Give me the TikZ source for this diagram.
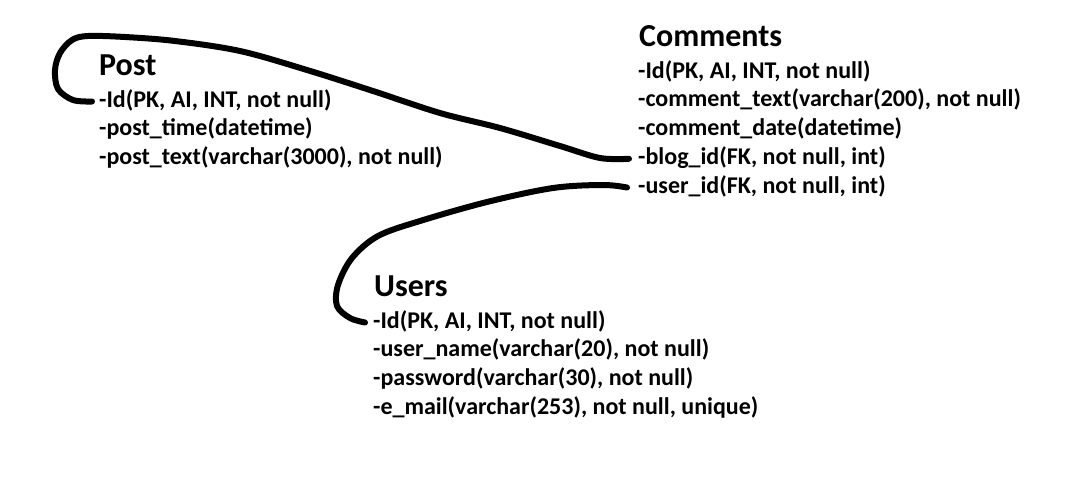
\documentclass[tikz,border=0pt]{standalone}
\usepackage{fontspec}
\setmainfont{Carlito}
\begin{document}
\begin{tikzpicture}[
        x=1pt, y=-1pt,
        title/.style={anchor=base west, inner sep=0pt,
            font=\fontsize{32}{38}\selectfont\bfseries},
        field/.style={anchor=base west, inner sep=0pt,
            text height=17pt, text depth=6pt,
            font=\fontsize{24}{29}\selectfont\bfseries},
        pen/.style={draw=black, line width=6pt, line cap=round, line join=round},
    ]
    \useasboundingbox[fill=white] (0,0) rectangle (1068,488);
    % tables
    \node[title] (post) at (99,75) {Post};
    \foreach \f [count=\i] in {{-Id(PK, AI, INT, not null)},
        {-post\_time(datetime)},
        {-post\_text(varchar(3000), not null)}}
        \node[field] (post-\i) at (99,{107+28.75*(\i-1)}) {\f};
    \node[title] (comments) at (639,46) {Comments};
    \foreach \f [count=\i] in {{-Id(PK, AI, INT, not null)},
        {-comment\_text(varchar(200), not null)},
        {-comment\_date(datetime)},
        {-blog\_id(FK, not null, int)},
        {-user\_id(FK, not null, int)}}
        \node[field] (comments-\i) at (638,{78+28.75*(\i-1)}) {\f};
    \node[title] (users) at (374,296) {Users};
    \foreach \f [count=\i] in {{-Id(PK, AI, INT, not null)},
        {-user\_name(varchar(20), not null)},
        {-password(varchar(30), not null)},
        {-e\_mail(varchar(253), not null, unique)}}
        \node[field] (users-\i) at (373,{328+28.75*(\i-1)}) {\f};
    % hand drawn links
    \draw[pen] plot[smooth, tension=0.55] coordinates {
        ([xshift=-7pt]post-1.west) (73,100) (58,89) (55,70) (60,53) (72,40)
        (88,36) (125,37) (175,41) (240,51) (307,70) (373,91) (440,113)
        (500,128) (560,146) (600,158) ([xshift=-9pt]comments-4.west)};
    \draw[pen] plot[smooth, tension=0.55] coordinates {
        ([xshift=-11pt]comments-5.west) (603,185) (553,188) (487,202)
        (420,221) (378,236) (352,258) (338,285) (337,306) (350,318)
        ([xshift=-8pt]users-1.west)};
\end{tikzpicture}
\end{document}
